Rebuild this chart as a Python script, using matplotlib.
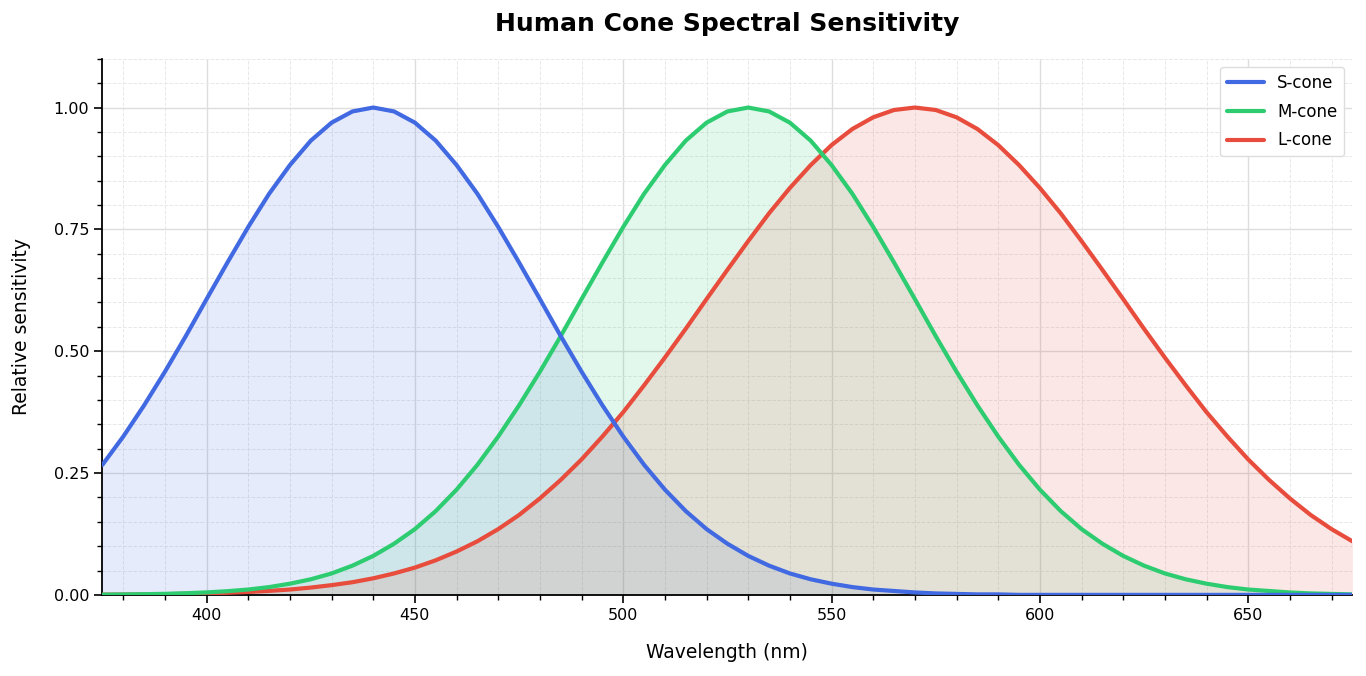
import numpy as np
import matplotlib.pyplot as plt
from matplotlib.ticker import MultipleLocator

# Wavelengths (nm), sampled every 5 nm
wavelength = np.arange(375, 680, 5)

# Relative sensitivity
s_cone = [0.267, 0.325, 0.389, 0.458, 0.531, 0.607, 0.682, 0.755, 0.823, 0.882,
          0.932, 0.969, 0.992, 1.000, 0.992, 0.969, 0.932, 0.882, 0.823, 0.755,
          0.682, 0.607, 0.531, 0.458, 0.389, 0.325, 0.267, 0.216, 0.172, 0.135,
          0.105, 0.080, 0.060, 0.044, 0.032, 0.023, 0.016, 0.011, 0.008, 0.005,
          0.003, 0.002, 0.001, 0.001, 0.000, 0.000, 0.000, 0.000, 0.000, 0.000,
          0.000, 0.000, 0.000, 0.000, 0.000, 0.000, 0.000, 0.000, 0.000, 0.000,
          0.000]
m_cone = [0.0005, 0.0009, 0.0014, 0.0022, 0.0034, 0.0051, 0.0076, 0.011, 0.016, 0.023,
          0.032, 0.044, 0.060, 0.080, 0.105, 0.135, 0.172, 0.216, 0.267, 0.325,
          0.389, 0.458, 0.531, 0.607, 0.682, 0.755, 0.823, 0.882, 0.932, 0.969,
          0.992, 1.000, 0.992, 0.969, 0.932, 0.882, 0.823, 0.755, 0.682, 0.607,
          0.531, 0.458, 0.389, 0.325, 0.267, 0.216, 0.172, 0.135, 0.105, 0.080,
          0.060, 0.044, 0.032, 0.023, 0.016, 0.011, 0.008, 0.005, 0.003, 0.002,
          0.001]
l_cone = [0.0005, 0.0007, 0.0011, 0.0015, 0.0022, 0.0031, 0.0043, 0.006, 0.0082, 0.011,
          0.015, 0.020, 0.026, 0.034, 0.044, 0.056, 0.071, 0.089, 0.110, 0.135,
          0.164, 0.198, 0.236, 0.278, 0.325, 0.375, 0.430, 0.487, 0.546, 0.607,
          0.667, 0.726, 0.783, 0.835, 0.882, 0.923, 0.956, 0.980, 0.995, 1.000,
          0.995, 0.980, 0.956, 0.923, 0.882, 0.835, 0.783, 0.726, 0.667, 0.607,
          0.546, 0.487, 0.430, 0.375, 0.325, 0.278, 0.236, 0.198, 0.164, 0.135,
          0.110]

labels = ["S-cone", "M-cone", "L-cone"]
colors = ["#4169E1", "#2ECC71", "#E74C3C"]
series = [s_cone, m_cone, l_cone]

fig, ax = plt.subplots(figsize=(13.66, 6.76), dpi=100)

# fills first, then lines on top
for vals, col in zip(series, colors):
    ax.fill_between(wavelength, vals, 0, color=col, alpha=0.13, linewidth=0, zorder=1)
for vals, col, lab, z in zip(series, colors, labels, [5, 4, 3]):
    ax.plot(wavelength, vals, color=col, linewidth=3, label=lab, zorder=z,
            solid_joinstyle="round", solid_capstyle="round")

ax.set_xlim(375, 675)
ax.set_ylim(0, 1.1)
ax.set_xticks([400, 450, 500, 550, 600, 650])
ax.set_yticks([0, 0.25, 0.5, 0.75, 1.0])
ax.set_yticklabels(["0.00", "0.25", "0.50", "0.75", "1.00"])
ax.xaxis.set_minor_locator(MultipleLocator(10))
ax.yaxis.set_minor_locator(MultipleLocator(0.05))

ax.grid(which="major", color="#dddddd", linewidth=1.0, zorder=0)
ax.grid(which="minor", color="#e8e8e8", linewidth=0.7, linestyle="--", zorder=0)
ax.set_axisbelow(True)

ax.spines["top"].set_visible(False)
ax.spines["right"].set_visible(False)
ax.spines["left"].set_linewidth(1.3)
ax.spines["bottom"].set_linewidth(1.3)
ax.tick_params(which="major", length=6, width=1.2, labelsize=11.5)
ax.tick_params(which="minor", length=3.5, width=1.0)

ax.set_xlabel("Wavelength (nm)", fontsize=13.5, labelpad=14)
ax.set_ylabel("Relative sensitivity", fontsize=13.5, labelpad=16)
ax.set_title("Human Cone Spectral Sensitivity", fontsize=18, fontweight="bold", pad=20)

ax.legend(loc="upper right", fontsize=12, frameon=True, framealpha=1.0,
          edgecolor="#dddddd", handlelength=2.2, labelspacing=0.65)

fig.subplots_adjust(left=0.075, right=0.99, top=0.913, bottom=0.12)
fig.savefig("out.png", dpi=100)
